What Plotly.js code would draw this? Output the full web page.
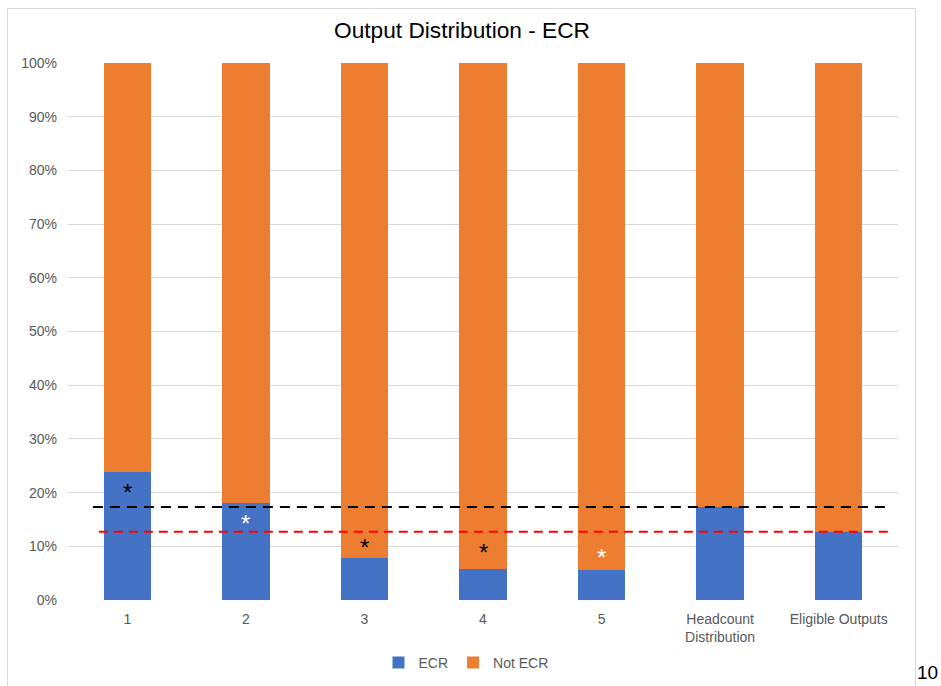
<!DOCTYPE html>
<html>
<head>
<meta charset="utf-8">
<script src="https://cdn.plot.ly/plotly-3.0.1.min.js"></script>
<style>
  html, body { margin: 0; padding: 0; background: #ffffff; }
  #chart { width: 941px; height: 686px; }
</style>
</head>
<body>
<div id="chart"></div>
<script>
// ---- data ----
const categories = ["1", "2", "3", "4", "5", "Headcount Distribution", "Eligible Outputs"];
const tickLabels = ["1", "2", "3", "4", "5", "Headcount<br>Distribution", "Eligible Outputs"];
const ecr    = [0.238, 0.180, 0.078, 0.058, 0.056, 0.174, 0.127];
const notEcr = [0.762, 0.820, 0.922, 0.942, 0.944, 0.826, 0.873];
const headcountLevel = 0.173;   // black dashed reference line
const eligibleLevel  = 0.127;   // red dashed reference line
const starCategories = ["1", "2", "3", "4", "5"];
const starY          = [0.208, 0.149, 0.106, 0.095, 0.087];
const starColors     = ["#000000", "#ffffff", "#000000", "#000000", "#ffffff"];

const FONT = "Liberation Sans, Arial, sans-serif";

const traces = [
  { type: "bar", name: "ECR", x: categories, y: ecr,
    marker: { color: "#4472c4" }, hoverinfo: "skip" },
  { type: "bar", name: "Not ECR", x: categories, y: notEcr,
    marker: { color: "#ed7d31" }, hoverinfo: "skip" }
];

// category axis: annotations positioned by category serial number
const annotations = starCategories.map((c, i) => ({
  x: categories.indexOf(c), y: starY[i], xref: "x", yref: "y", text: "*", showarrow: false,
  font: { family: FONT, size: 24, color: starColors[i] },
  xanchor: "center", yanchor: "middle", yshift: -4
}));
annotations.push({
  xref: "paper", yref: "paper", x: (927 - 68) / 830, y: (600 - 672) / 537,
  text: "10", showarrow: false, xanchor: "center", yanchor: "middle",
  font: { family: FONT, size: 19, color: "#000000" }
});

const shapes = [
  { type: "rect", xref: "paper", yref: "paper",
    x0: (7.5 - 68) / 830, x1: (915.5 - 68) / 830,
    y0: (600 - 700) / 537, y1: (600 - 8.5) / 537,
    line: { color: "#d9d9d9", width: 1 }, fillcolor: "rgba(0,0,0,0)", layer: "below" },
  { type: "line", xref: "x", yref: "y", x0: -0.29, x1: 6.39,
    y0: headcountLevel, y1: headcountLevel,
    line: { color: "#000000", width: 2, dash: "10px,7px" } },
  { type: "line", xref: "x", yref: "y", x0: -0.24, x1: 6.44,
    y0: eligibleLevel, y1: eligibleLevel,
    line: { color: "#ff0000", width: 2, dash: "9px,6px" } }
];

const layout = {
  width: 941, height: 686,
  margin: { l: 68, r: 43, t: 63, b: 86, autoexpand: false },
  paper_bgcolor: "#ffffff", plot_bgcolor: "#ffffff",
  font: { family: FONT, color: "#595959", size: 14 },
  barmode: "stack",
  bargap: 0.6,
  showlegend: true,
  title: {
    text: "Output Distribution - ECR",
    font: { family: FONT, size: 22.7, color: "#000000" },
    xref: "container", yref: "container",
    x: 462 / 941, xanchor: "center",
    y: 1 - 30 / 686, yanchor: "middle"
  },
  xaxis: {
    type: "category", automargin: false,
    tickmode: "array", tickvals: categories, ticktext: tickLabels,
    showgrid: false, zeroline: false, showline: false,
    ticks: "", ticklabelstandoff: 9,
    tickfont: { family: FONT, size: 14, color: "#595959" },
    fixedrange: true
  },
  yaxis: {
    range: [0, 1], dtick: 0.1, tickformat: ".0%", automargin: false,
    showgrid: true, gridcolor: "#d9d9d9", gridwidth: 1,
    zeroline: false, showline: false, ticks: "", ticklabelstandoff: 10,
    tickfont: { family: FONT, size: 14, color: "#595959" },
    fixedrange: true
  },
  legend: {
    orientation: "h", xref: "paper", yref: "paper",
    x: (466 - 68) / 830, xanchor: "center",
    y: (600 - 663) / 537, yanchor: "middle",
    font: { family: FONT, size: 14, color: "#595959" },
    itemwidth: 30, traceorder: "normal"
  },
  shapes: shapes,
  annotations: annotations
};

Plotly.newPlot("chart", traces, layout, { displayModeBar: false, staticPlot: true });
</script>
</body>
</html>
